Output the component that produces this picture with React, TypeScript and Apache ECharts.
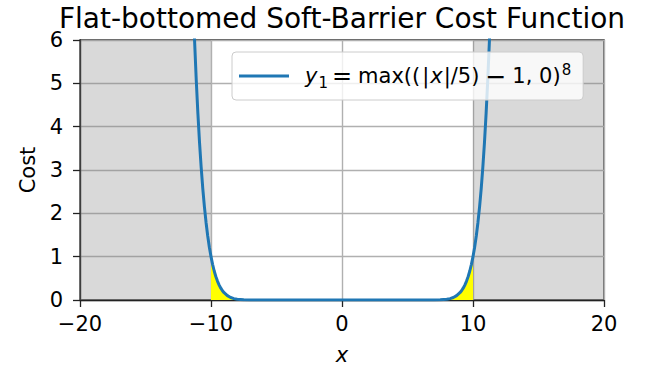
import React, { useEffect, useRef } from "react";
import * as echarts from "echarts";

const FONT = "DejaVu Sans";

const TITLE = "Flat-bottomed Soft-Barrier Cost Function";
const X_LABEL = "x";
const Y_LABEL = "Cost";

// sample x positions and cost values
const xValues = [
  -12, -11.5, -11.25, -11.125, -11, -10.875, -10.75, -10.625, -10.5, -10.375, -10.25, -10.125,
  -10, -9.875, -9.75, -9.625, -9.5, -9.375, -9.25, -9.125, -9, -8.75, -8.5, -8.25, -8, -7.5, -7,
  -6, -5, 0, 5, 6, 7, 7.5, 8, 8.25, 8.5, 8.75, 9, 9.125, 9.25, 9.375, 9.5, 9.625, 9.75, 9.875,
  10, 10.125, 10.25, 10.375, 10.5, 10.625, 10.75, 10.875, 11, 11.125, 11.25, 11.5, 12,
];
const costValues = [
  14.758, 8.1573, 5.9605, 5.071, 4.2998, 3.6333, 3.059, 2.5658, 2.1436, 1.7835, 1.4775, 1.2184,
  1, 0.8167, 0.6634, 0.536, 0.4305, 0.3436, 0.2725, 0.2146, 0.1678, 0.1001, 0.0576, 0.0319,
  0.0168, 0.0039, 0.00066, 0.0000026, 0, 0, 0, 0.0000026, 0.00066, 0.0039, 0.0168, 0.0319,
  0.0576, 0.1001, 0.1678, 0.2146, 0.2725, 0.3436, 0.4305, 0.536, 0.6634, 0.8167, 1, 1.2184,
  1.4775, 1.7835, 2.1436, 2.5658, 3.059, 3.6333, 4.2998, 5.071, 5.9605, 8.1573, 14.758,
];

const barrierLow = -10;
const barrierHigh = 10;
const xRange = [-20, 20];
const yRange = [0, 6];

export default function App() {
  const ref = useRef<HTMLDivElement>(null);

  useEffect(() => {
    if (!ref.current) return;
    const chart = echarts.init(ref.current, null, { renderer: "svg" });

    const lineData = xValues.map((x, i) => [x, costValues[i]]);
    const fillData = lineData.filter(
      (p) => p[0] >= barrierLow && p[0] <= barrierHigh
    );

    const minus = (v: number) => String(v).replace("-", "\u2212");

    const base = { fontSize: 21, fontFamily: FONT, color: "#000", lineHeight: 28 };

    chart.setOption({
      animation: false,
      backgroundColor: "#ffffff",
      textStyle: { fontFamily: FONT },
      graphic: [
        {
          type: "text",
          x: 342,
          y: 18,
          style: {
            text: TITLE,
            fontSize: 28,
            fontFamily: FONT,
            fill: "#000",
            align: "center",
            verticalAlign: "middle",
            textAlign: "center",
            textVerticalAlign: "middle",
          },
        },
      ],
      grid: {
        left: 80,
        right: 50,
        top: 40,
        bottom: 76,
        show: true,
        borderColor: "#222",
        borderWidth: 1.3,
        backgroundColor: "transparent",
      },
      legend: {
        data: [{ name: "y1", icon: "rect" }],
        left: 232,
        top: 52,
        orient: "vertical",
        padding: [10, 12, 10, 7],
        itemWidth: 50,
        itemHeight: 3,
        backgroundColor: "rgba(255,255,255,0.8)",
        borderColor: "#cccccc",
        borderWidth: 1,
        borderRadius: 4,
        formatter: () =>
          "{sp|}{y|y}{sub|1}{eq|=}{n|max((}{b1||}{x|x}{n||/5)}{op|\u2212}{n|1, 0)}{sup|8}",
        textStyle: {
          fontFamily: FONT,
          fontSize: 21,
          color: "#000",
          rich: {
            sp: { width: 11 },
            n: { ...base },
            y: { ...base, fontStyle: "italic" },
            sub: {
              fontSize: 15,
              fontFamily: FONT,
              color: "#000",
              lineHeight: 15,
              verticalAlign: "bottom",
              padding: [0, 4, 0, 1],
            },
            eq: { ...base, fontSize: 24, padding: [0, 6, 0, 0] },
            b1: { ...base, padding: [0, 0, 0, 2] },
            x: { ...base, fontStyle: "italic", padding: [0, 1, 0, 1] },
            op: { ...base, fontSize: 25, padding: [0, 6, 0, 6] },
            sup: {
              fontSize: 15,
              fontFamily: FONT,
              color: "#000",
              lineHeight: 15,
              verticalAlign: "top",
              padding: [0, 0, 0, 1],
            },
          },
        },
      },
      xAxis: {
        type: "value",
        min: xRange[0],
        max: xRange[1],
        interval: 10,
        name: X_LABEL,
        nameLocation: "middle",
        nameGap: 44,
        nameTextStyle: {
          fontFamily: FONT,
          fontSize: 21,
          fontStyle: "italic",
          color: "#000",
        },
        axisLine: { show: true, onZero: false, lineStyle: { color: "#222", width: 1.3 } },
        axisTick: { show: true, length: 7, lineStyle: { color: "#222", width: 1.3 } },
        axisLabel: {
          color: "#000",
          fontSize: 21,
          fontFamily: FONT,
          margin: 13,
          formatter: (v: number) => minus(v),
        },
        splitLine: { show: true, lineStyle: { color: "#b0b0b0", width: 1.4 } },
      },
      yAxis: {
        type: "value",
        min: yRange[0],
        max: yRange[1],
        interval: 1,
        name: Y_LABEL,
        nameLocation: "middle",
        nameGap: 42,
        nameTextStyle: { fontFamily: FONT, fontSize: 21, color: "#000" },
        axisLine: { show: true, onZero: false, lineStyle: { color: "#222", width: 1.3 } },
        axisTick: { show: true, length: 7, lineStyle: { color: "#222", width: 1.3 } },
        axisLabel: {
          color: "#000",
          fontSize: 21,
          fontFamily: FONT,
          margin: 17,
          formatter: (v: number) => minus(v),
        },
        splitLine: { show: true, lineStyle: { color: "#b0b0b0", width: 1.4 } },
      },
      series: [
        {
          name: "fill",
          type: "line",
          data: fillData,
          symbol: "none",
          lineStyle: { width: 0, opacity: 0 },
          areaStyle: { color: "#ffff00", opacity: 1 },
          z: 1,
          silent: true,
          markArea: {
            silent: true,
            itemStyle: { color: "rgba(128,128,128,0.3)" },
            data: [
              [{ xAxis: xRange[0] }, { xAxis: barrierLow }],
              [{ xAxis: barrierHigh }, { xAxis: xRange[1] }],
            ],
          },
        },
        {
          name: "y1",
          type: "line",
          data: lineData,
          symbol: "none",
          clip: true,
          lineStyle: { color: "#1f77b4", width: 3 },
          itemStyle: { color: "#1f77b4" },
          z: 3,
        },
      ],
    });

    return () => chart.dispose();
  }, []);

  return (
    <div
      ref={ref}
      style={{ position: "absolute", left: 0, top: 0, width: 654, height: 376 }}
    />
  );
}
